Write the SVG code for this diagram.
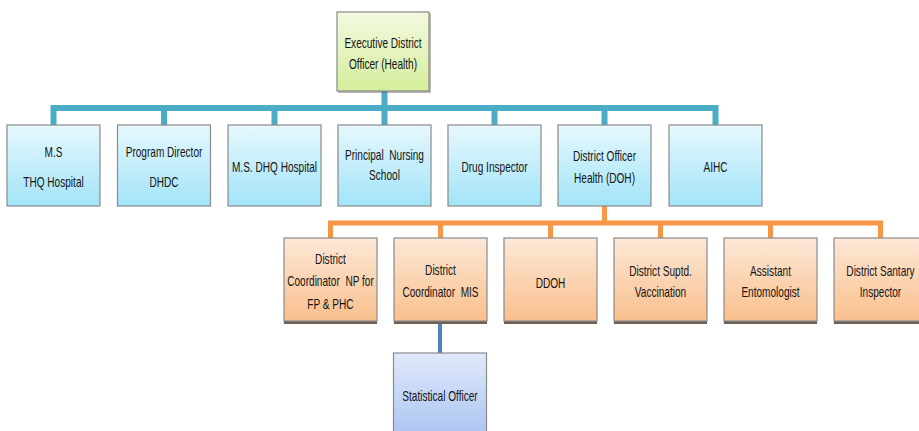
<svg xmlns="http://www.w3.org/2000/svg" width="919" height="431" viewBox="0 0 919 431">
<defs>
<linearGradient id="gGreen" x1="0" y1="0" x2="0" y2="1"><stop offset="0" stop-color="#f3f9e0"/><stop offset="1" stop-color="#d5ee9c"/></linearGradient>
<linearGradient id="gBlue" x1="0" y1="0" x2="0" y2="1"><stop offset="0" stop-color="#e6f8fd"/><stop offset="1" stop-color="#a2e4f8"/></linearGradient>
<linearGradient id="gOrange" x1="0" y1="0" x2="0" y2="1"><stop offset="0" stop-color="#fde8d8"/><stop offset="1" stop-color="#f9bf8c"/></linearGradient>
<linearGradient id="gSteel" x1="0" y1="0" x2="0" y2="1"><stop offset="0" stop-color="#e0e9fa"/><stop offset="1" stop-color="#a6c1f1"/></linearGradient>
</defs>
<style>
.box{stroke:#8a8a8a;stroke-width:1.2}
.shadow{fill:#6b6157}
.t{font-family:"Liberation Sans",Arial,sans-serif;font-size:14px;fill:#151515;text-anchor:middle;white-space:pre}
.cb{stroke:#4bacc6;stroke-width:6;fill:none}
.co{stroke:#f79646;stroke-width:5;fill:none}
.cs{stroke:#4f81bd;stroke-width:4;fill:none}
</style>
<rect width="919" height="431" fill="#ffffff"/>
<g id="connectors">
<path class="cb" d="M384.5 91 V108 M53.5 125 V108 H715.5 V125 M164 108 V125 M274.5 108 V125 M384.5 108 V125 M494.5 108 V125 M604.5 108 V125"/>
<path class="co" d="M604.5 206 V223 M330.5 238 V223 H880.5 V238 M440.5 223 V238 M550.5 223 V238 M660.5 223 V238 M770.5 223 V238"/>
<path class="cs" d="M440 323 V353"/>
</g>
<g id="n-edo">
<rect class="shadow" x="338" y="13" width="93" height="80" opacity="0.45"/>
<rect class="box" x="337" y="12" width="92" height="79" fill="url(#gGreen)"/>
<text class="t" transform="translate(383,48) scale(0.72,1)">Executive District</text>
<text class="t" transform="translate(383,69) scale(0.72,1)">Officer (Health)</text>
</g>
<g id="n-ms-thq">
<rect class="box" x="7" y="125" width="93" height="81" fill="url(#gBlue)"/>
<text class="t" transform="translate(53.5,157) scale(0.72,1)">M.S</text>
<text class="t" transform="translate(53.5,187) scale(0.72,1)">THQ Hospital</text>
</g>
<g id="n-pd">
<rect class="box" x="117.5" y="125" width="93" height="81" fill="url(#gBlue)"/>
<text class="t" transform="translate(164,157) scale(0.72,1)">Program Director</text>
<text class="t" transform="translate(164,187) scale(0.72,1)">DHDC</text>
</g>
<g id="n-ms-dhq">
<rect class="box" x="228" y="125" width="93" height="81" fill="url(#gBlue)"/>
<text class="t" transform="translate(274.5,172) scale(0.72,1)">M.S. DHQ Hospital</text>
</g>
<g id="n-pns">
<rect class="box" x="338" y="125" width="93" height="81" fill="url(#gBlue)"/>
<text class="t" transform="translate(384.5,160) scale(0.72,1)">Principal  Nursing</text>
<text class="t" transform="translate(384.5,180) scale(0.72,1)">School</text>
</g>
<g id="n-drug">
<rect class="box" x="448" y="125" width="93" height="81" fill="url(#gBlue)"/>
<text class="t" transform="translate(494.5,172) scale(0.72,1)">Drug Inspector</text>
</g>
<g id="n-doh">
<rect class="box" x="558" y="125" width="93" height="81" fill="url(#gBlue)"/>
<text class="t" transform="translate(604.5,161) scale(0.72,1)">District Officer</text>
<text class="t" transform="translate(604.5,183) scale(0.72,1)">Health (DOH)</text>
</g>
<g id="n-aihc">
<rect class="box" x="669" y="125" width="93" height="81" fill="url(#gBlue)"/>
<text class="t" transform="translate(715.5,172) scale(0.72,1)">AIHC</text>
</g>
<g id="n-dc-np">
<rect class="shadow" x="284" y="320" width="93" height="4"/>
<rect class="box" x="284" y="238" width="93" height="83" fill="url(#gOrange)"/>
<text class="t" transform="translate(330.5,264) scale(0.72,1)">District</text>
<text class="t" transform="translate(330.5,286) scale(0.72,1)">Coordinator  NP for</text>
<text class="t" transform="translate(330.5,309) scale(0.72,1)">FP &amp; PHC</text>
</g>
<g id="n-dc-mis">
<rect class="shadow" x="394" y="320" width="93" height="4"/>
<rect class="box" x="394" y="238" width="93" height="83" fill="url(#gOrange)"/>
<text class="t" transform="translate(440.5,275) scale(0.72,1)">District</text>
<text class="t" transform="translate(440.5,297) scale(0.72,1)">Coordinator  MIS</text>
</g>
<g id="n-ddoh">
<rect class="shadow" x="504" y="320" width="93" height="4"/>
<rect class="box" x="504" y="238" width="93" height="83" fill="url(#gOrange)"/>
<text class="t" transform="translate(550.5,288) scale(0.72,1)">DDOH</text>
</g>
<g id="n-dsv">
<rect class="shadow" x="614" y="320" width="93" height="4"/>
<rect class="box" x="614" y="238" width="93" height="83" fill="url(#gOrange)"/>
<text class="t" transform="translate(660.5,276) scale(0.72,1)">District Suptd.</text>
<text class="t" transform="translate(660.5,297) scale(0.72,1)">Vaccination</text>
</g>
<g id="n-ae">
<rect class="shadow" x="724" y="320" width="93" height="4"/>
<rect class="box" x="724" y="238" width="93" height="83" fill="url(#gOrange)"/>
<text class="t" transform="translate(770.5,276) scale(0.72,1)">Assistant</text>
<text class="t" transform="translate(770.5,297) scale(0.72,1)">Entomologist</text>
</g>
<g id="n-dsi">
<rect class="shadow" x="834" y="320" width="93" height="4"/>
<rect class="box" x="834" y="238" width="93" height="83" fill="url(#gOrange)"/>
<text class="t" transform="translate(880.5,276) scale(0.72,1)">District Santary</text>
<text class="t" transform="translate(880.5,297) scale(0.72,1)">Inspector</text>
</g>
<g id="n-so">
<rect class="box" x="393.5" y="353" width="93" height="90" fill="url(#gSteel)"/>
<text class="t" transform="translate(440,401) scale(0.72,1)">Statistical Officer</text>
</g>
</svg>
